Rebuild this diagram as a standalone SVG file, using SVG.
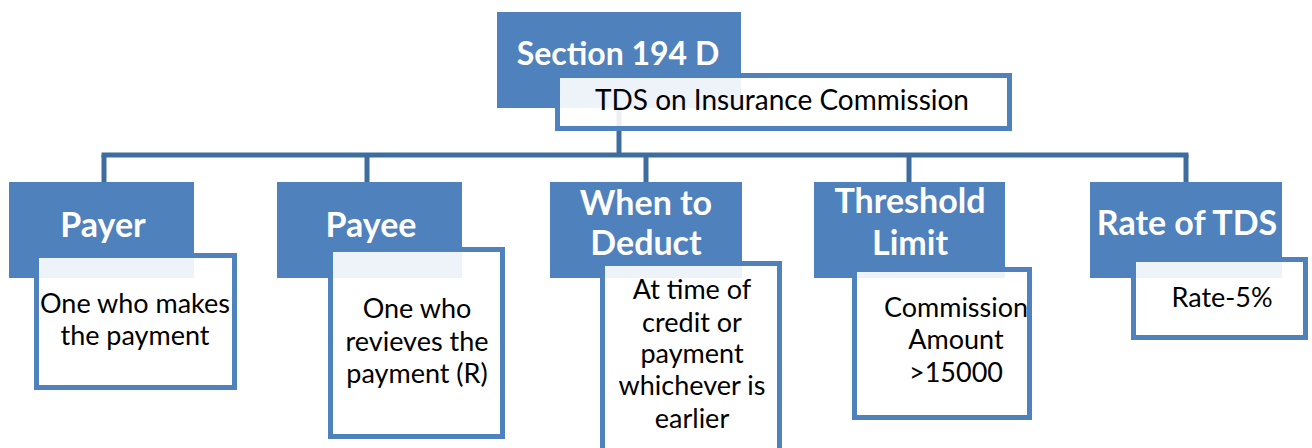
<svg xmlns="http://www.w3.org/2000/svg" width="1312" height="448" viewBox="0 0 1312 448">
  <style>
    .head { fill: #4F81BD; }
    .card { fill: #FFFFFF; fill-opacity: 0.9; stroke: #4F81BD; stroke-width: 5; }
    .title { font-family: Lato, "Liberation Sans", sans-serif; font-weight: bold; font-size: 34px; fill: #FFFFFF; text-anchor: middle; }
    .body { font-family: Lato, "Liberation Sans", sans-serif; font-size: 27px; fill: #000000; text-anchor: middle; }
    .link { fill: none; stroke: #3F6C9E; stroke-width: 5; }
  </style>
  <rect width="1312" height="448" fill="#FFFFFF"/>

  <!-- tree connectors (drawn below the cards) -->
  <g id="connectors">
    <path class="link" d="M619 108 V155"/>
    <path class="link" d="M101.5 155 H1188.5"/>
    <path class="link" d="M104 155 V182"/>
    <path class="link" d="M367 155 V182"/>
    <path class="link" d="M646 155 V182"/>
    <path class="link" d="M909 155 V182"/>
    <path class="link" d="M1186 155 V182"/>
  </g>

  <g id="root">
    <rect class="head" x="497" y="12" width="244" height="96"/>
    <text class="title" x="618" y="65" style="font-size:32px">Section 194 D</text>
    <rect class="card" x="557.5" y="75.5" width="452" height="53"/>
    <text class="body" x="782" y="110" style="font-size:28px">TDS on Insurance Commission</text>
  </g>

  <g id="payer">
    <rect class="head" x="9" y="182" width="185" height="96"/>
    <text class="title" x="103" y="237">Payer</text>
    <rect class="card" x="36.5" y="255.5" width="198" height="132"/>
    <text class="body" x="135" y="313">One who makes</text>
    <text class="body" x="135" y="345">the payment</text>
  </g>

  <g id="payee">
    <rect class="head" x="277" y="182" width="185" height="96"/>
    <text class="title" x="371" y="237">Payee</text>
    <rect class="card" x="330.5" y="249.5" width="172" height="187"/>
    <text class="body" x="417" y="318">One who</text>
    <text class="body" x="417" y="351">revieves the</text>
    <text class="body" x="417" y="383">payment (R)</text>
  </g>

  <g id="when-to-deduct">
    <rect class="head" x="550" y="182" width="192" height="96"/>
    <text class="title" x="646" y="215">When to</text>
    <text class="title" x="646" y="255">Deduct</text>
    <rect class="card" x="602.5" y="263.5" width="177" height="190"/>
    <text class="body" x="692" y="299">At time of</text>
    <text class="body" x="692" y="332">credit or</text>
    <text class="body" x="692" y="363">payment</text>
    <text class="body" x="692" y="395">whichever is</text>
    <text class="body" x="692" y="428">earlier</text>
  </g>

  <g id="threshold-limit">
    <rect class="head" x="814" y="182" width="191" height="96"/>
    <text class="title" x="910" y="213">Threshold</text>
    <text class="title" x="910" y="255">Limit</text>
    <rect class="card" x="854.5" y="269.5" width="175" height="148"/>
    <text class="body" x="956" y="317">Commission</text>
    <text class="body" x="956" y="349">Amount</text>
    <text class="body" x="956" y="382">&gt;15000</text>
  </g>

  <g id="rate-of-tds">
    <rect class="head" x="1090" y="182" width="192" height="96"/>
    <text class="title" x="1187" y="235">Rate of TDS</text>
    <rect class="card" x="1133.5" y="259.5" width="172" height="78"/>
    <text class="body" x="1222" y="307">Rate-5%</text>
  </g>
</svg>
